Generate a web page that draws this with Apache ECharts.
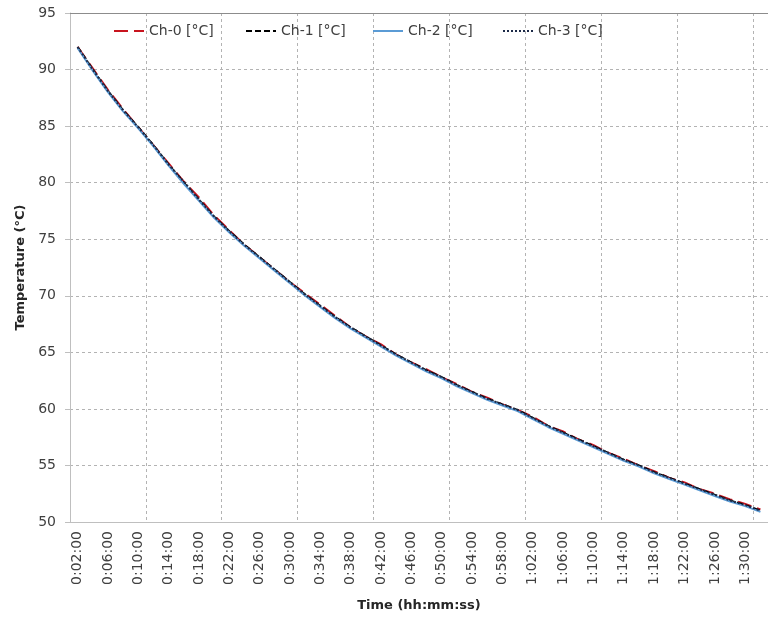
<!DOCTYPE html>
<html>
<head>
    <meta charset="utf-8">
    <title>Temperature</title>
    <script src="https://cdn.jsdelivr.net/npm/echarts/dist/echarts.min.js"></script>
    <style>
        html, body { margin: 0; padding: 0; background: #fff; }
        #main { width: 768px; height: 618px; }
    </style>
</head>
<body>
<div id="main"></div>
<script>
    // time stamps, one every 2 minutes
    var times = ['0:02:00', '0:04:00', '0:06:00', '0:08:00', '0:10:00', '0:12:00', '0:14:00', '0:16:00',
        '0:18:00', '0:20:00', '0:22:00', '0:24:00', '0:26:00', '0:28:00', '0:30:00', '0:32:00',
        '0:34:00', '0:36:00', '0:38:00', '0:40:00', '0:42:00', '0:44:00', '0:46:00', '0:48:00',
        '0:50:00', '0:52:00', '0:54:00', '0:56:00', '0:58:00', '1:00:00', '1:02:00', '1:04:00',
        '1:06:00', '1:08:00', '1:10:00', '1:12:00', '1:14:00', '1:16:00', '1:18:00', '1:20:00',
        '1:22:00', '1:24:00', '1:26:00', '1:28:00', '1:30:00', '1:32:00'];

    var ch0 = [92.0, 90.1, 88.2, 86.5, 84.9, 83.3, 81.7, 80.1, 78.7, 77.1, 75.8, 74.5, 73.4, 72.3, 71.2, 70.2,
        69.2, 68.2, 67.2, 66.4, 65.7, 64.8, 64.1, 63.5, 62.8, 62.2, 61.5, 61.0, 60.4, 59.9, 59.3, 58.5,
        58.0, 57.3, 56.8, 56.1, 55.6, 55.0, 54.5, 53.9, 53.5, 52.9, 52.5, 52.0, 51.6, 51.1];
    var ch1 = [92.0, 90.0, 88.1, 86.4, 84.9, 83.3, 81.6, 80.0, 78.5, 77.0, 75.7, 74.5, 73.4, 72.3, 71.2, 70.1,
        69.1, 68.1, 67.2, 66.4, 65.6, 64.8, 64.1, 63.4, 62.8, 62.1, 61.5, 60.9, 60.4, 59.9, 59.2, 58.5,
        57.9, 57.3, 56.7, 56.1, 55.5, 55.0, 54.4, 53.9, 53.4, 52.9, 52.4, 51.9, 51.5, 51.0];
    var ch2 = [91.9, 89.9, 88.0, 86.3, 84.8, 83.2, 81.5, 79.9, 78.4, 76.9, 75.6, 74.4, 73.3, 72.2, 71.1, 70.0,
        69.0, 68.0, 67.1, 66.3, 65.5, 64.7, 64.0, 63.3, 62.7, 62.0, 61.4, 60.8, 60.3, 59.8, 59.1, 58.4,
        57.8, 57.2, 56.6, 56.0, 55.4, 54.9, 54.3, 53.8, 53.3, 52.8, 52.3, 51.8, 51.4, 50.9];
    var ch3 = [92.0, 90.0, 88.1, 86.4, 84.9, 83.3, 81.6, 80.1, 78.5, 77.0, 75.7, 74.5, 73.4, 72.3, 71.2, 70.1,
        69.1, 68.1, 67.2, 66.4, 65.6, 64.8, 64.1, 63.4, 62.8, 62.1, 61.5, 60.9, 60.4, 59.9, 59.2, 58.5,
        57.9, 57.3, 56.7, 56.1, 55.5, 55.0, 54.4, 53.9, 53.4, 52.9, 52.4, 51.9, 51.5, 51.0];

    var names = ['Ch-0 [°C]', 'Ch-1 [°C]', 'Ch-2 [°C]', 'Ch-3 [°C]'];
    var legendLeft = [113, 245, 372, 502];

    var font = 'DejaVu Sans';
    var legends = [];
    for (var i = 0; i < names.length; i++) {
        legends.push({
            data: [names[i]],
            left: legendLeft[i],
            top: 24,
            padding: 0,
            itemWidth: 30,
            itemHeight: 14,
            itemStyle: {opacity: 0},
            lineStyle: {width: 2},
            textStyle: {fontFamily: font, fontSize: 14, color: '#404040'}
        });
    }

    function line(name, data, color, dash) {
        return {
            name: name,
            type: 'line',
            data: data,
            symbol: 'none',
            lineStyle: {color: color, width: 2, type: dash},
            itemStyle: {color: color}
        };
    }

    var myChart = echarts.init(document.getElementById('main'));
    var option = {
        backgroundColor: '#fff',
        animation: false,
        legend: legends,
        grid: {left: 70, top: 13, bottom: 96, right: -9},
        xAxis: [{
            type: 'category',
            data: times,
            boundaryGap: true,
            name: 'Time (hh:mm:ss)',
            nameLocation: 'middle',
            nameGap: 77,
            nameTextStyle: {fontFamily: font, fontSize: 13, fontWeight: 'bold', color: '#262626'},
            axisLine: {lineStyle: {color: '#bfbfbf'}},
            axisTick: {show: false},
            axisLabel: {
                interval: 1,
                rotate: 90,
                margin: 9,
                fontFamily: font,
                fontSize: 14,
                color: '#404040'
            },
            splitLine: {show: true, interval: 4, lineStyle: {color: '#b3b3b3', type: [3, 3]}}
        }, {
            type: 'category',
            data: times,
            position: 'top',
            axisLine: {lineStyle: {color: '#8c8c8c'}},
            axisTick: {show: false},
            axisLabel: {show: false},
            splitLine: {show: false}
        }],
        yAxis: {
            type: 'value',
            min: 50,
            max: 95,
            interval: 5,
            name: 'Temperature (°C)',
            nameLocation: 'middle',
            nameGap: 43,
            nameTextStyle: {fontFamily: font, fontSize: 13, fontWeight: 'bold', color: '#262626'},
            axisLine: {show: true, lineStyle: {color: '#bfbfbf'}},
            axisTick: {show: true, length: 5, lineStyle: {color: '#bfbfbf'}},
            axisLabel: {margin: 14, fontFamily: font, fontSize: 14, color: '#404040'},
            splitLine: {lineStyle: {color: '#b3b3b3', type: [3, 3]}}
        },
        series: [
            line(names[0], ch0, '#c8141e', [14, 6]),
            line(names[1], ch1, '#000000', [6, 3]),
            line(names[2], ch2, '#5b9bd5', 'solid'),
            line(names[3], ch3, '#1c2a48', [2, 2])
        ]
    };
    myChart.setOption(option);
</script>
</body>
</html>
